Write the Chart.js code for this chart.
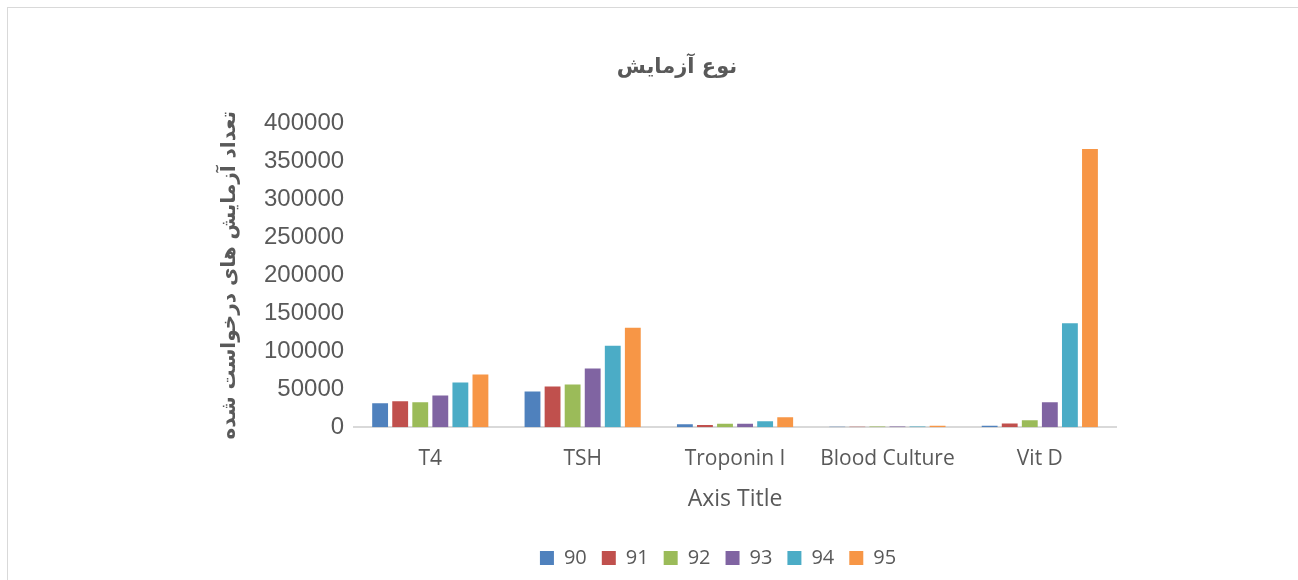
<!DOCTYPE html>
<html>
<head>
<meta charset="utf-8">
<script src="https://cdn.jsdelivr.net/npm/chart.js@4.4.1/dist/chart.umd.min.js"></script>
<style>
    html, body { margin: 0; padding: 0; background: #fff; overflow: hidden; }
    body { width: 1298px; height: 580px; position: relative; }
    #box {
        position: absolute; left: 7px; top: 7px;
        width: 1338px; height: 580px;
        border: 1px solid #d9d9d9; box-sizing: border-box;
    }
</style>
</head>
<body>
<div id="box"><canvas id="chart"></canvas></div>
<script>
const categories = ['T4', 'TSH', 'Troponin I', 'Blood Culture', 'Vit D'];
const years = ['90', '91', '92', '93', '94', '95'];
const colors = ['#4F81BD', '#C0504D', '#9BBB59', '#8064A2', '#4BACC6', '#F79646'];

// values per year, one entry per category
const y90 = [31400, 47000, 4000, 500, 2000];
const y91 = [34000, 53600, 3000, 500, 4800];
const y92 = [32700, 56200, 4500, 800, 9100];
const y93 = [41800, 77100, 4500, 800, 32700];
const y94 = [58800, 107200, 7800, 1000, 136800];
const y95 = [69300, 130700, 13000, 2000, 366000];
const series = [y90, y91, y92, y93, y94, y95];

const yTicks = [0, 50000, 100000, 150000, 200000, 250000, 300000, 350000, 400000];

const textGray = '#595959';
const segoe = '"Open Sans", "DejaVu Sans", sans-serif';
const arial = '"Liberation Sans", Arial, sans-serif';
const arabic = '"DejaVu Sans", sans-serif';

// the original's title and legend are not centred on the plot; nudge them
const boxShift = {
    id: 'boxShift',
    afterLayout(chart) {
        const lg = chart.legend;
        lg.left -= 17;
        lg.right -= 17;
        lg.legendHitBoxes.forEach(b => { b.left -= 17; });
        const tb = chart.titleBlock;
        tb.left += 10;
        tb.right += 10;
    }
};

document.addEventListener('DOMContentLoaded', function() {
    const ctx = document.getElementById('chart').getContext('2d');
    new Chart(ctx, {
        type: 'bar',
        data: {
            labels: categories,
            datasets: years.map((yr, i) => ({
                label: yr,
                data: series[i],
                backgroundColor: colors[i],
                borderWidth: 0,
                categoryPercentage: 0.79,
                barPercentage: 0.79
            }))
        },
        plugins: [boxShift],
        options: {
            responsive: true,
            maintainAspectRatio: false,
            animation: false,
            layout: { padding: { left: 210, right: 228, top: 0, bottom: 8 } },
            plugins: {
                title: {
                    display: true,
                    text: 'نوع آزمایش',
                    color: textGray,
                    font: { family: arabic, size: 21, weight: 'bold' },
                    padding: { top: 47, bottom: 43 }
                },
                legend: {
                    position: 'bottom',
                    fullSize: false,
                    labels: {
                        color: textGray,
                        font: { family: segoe, size: 20 },
                        boxWidth: 14,
                        boxHeight: 14,
                        padding: 15
                    }
                },
                tooltip: { enabled: false }
            },
            scales: {
                x: {
                    grid: { display: false, drawTicks: false },
                    border: { color: '#d9d9d9', width: 2 },
                    ticks: { color: textGray, font: { family: segoe, size: 21 }, padding: 19 },
                    title: {
                        display: true,
                        text: 'Axis Title',
                        color: textGray,
                        font: { family: segoe, size: 23 },
                        padding: { top: -5, bottom: 20 }
                    }
                },
                y: {
                    min: 0,
                    max: 400000,
                    afterBuildTicks: axis => { axis.ticks = yTicks.map(v => ({ value: v })); },
                    grid: { display: false, drawTicks: false },
                    border: { display: false },
                    ticks: {
                        color: textGray,
                        font: { family: arial, size: 24 },
                        padding: 10,
                        callback: v => String(v)
                    },
                    title: {
                        display: true,
                        text: 'تعداد آزمایش های درخواست شده',
                        color: textGray,
                        font: { family: arabic, size: 20, weight: 'bold' },
                        padding: { top: 0, bottom: 12 }
                    }
                }
            }
        }
    });
});
</script>
</body>
</html>
